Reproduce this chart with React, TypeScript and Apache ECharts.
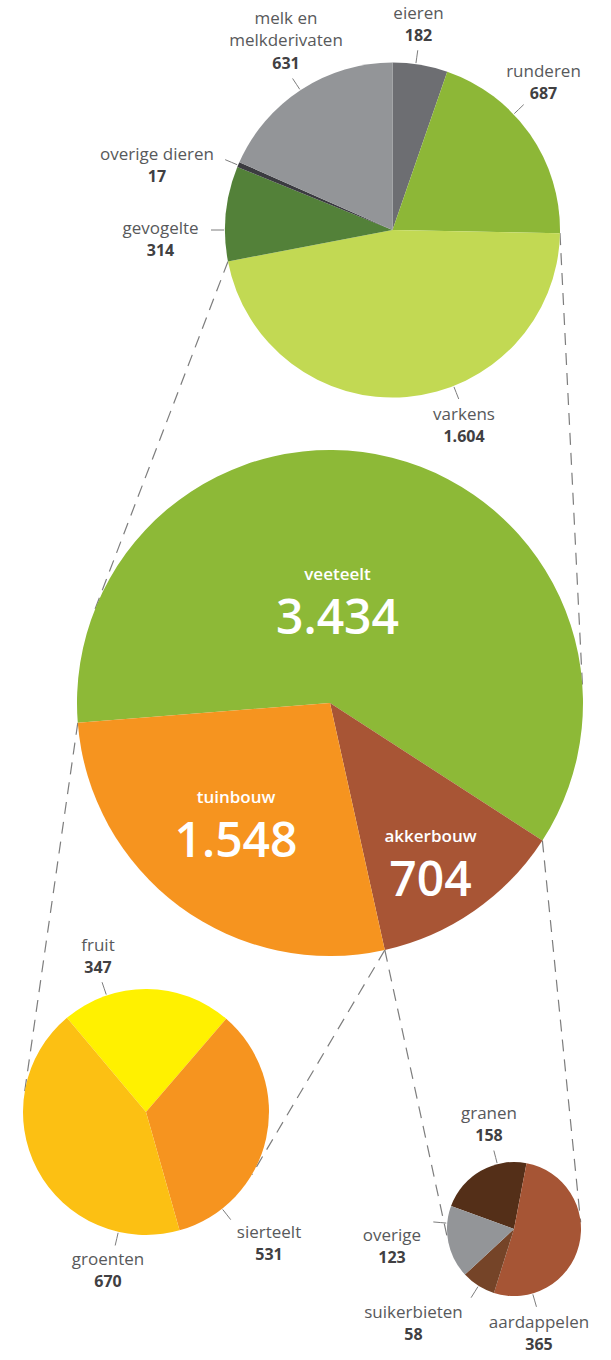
import React, { useEffect, useRef } from 'react';
import * as echarts from 'echarts';

// ---------- data ----------
const animalCategories = ['eieren', 'runderen', 'varkens', 'gevogelte', 'overige dieren', 'melk en\nmelkderivaten'];
const animalValues = [182, 687, 1604, 314, 17, 631];

const sectorCategories = ['veeteelt', 'akkerbouw', 'tuinbouw'];
const sectorValues = [3434, 704, 1548];

const hortiCategories = ['fruit', 'sierteelt', 'groenten'];
const hortiValues = [347, 531, 670];

const arableCategories = ['granen', 'aardappelen', 'suikerbieten', 'overige'];
const arableValues = [158, 365, 58, 123];

// ---------- styles ----------
const animalColors = ['#6d6e72', '#8db737', '#c2d953', '#538139', '#3b3b40', '#939598'];
const sectorColors = ['#8db937', '#a85535', '#f6941f'];
const hortiColors = ['#fff100', '#f6941f', '#fcc013'];
const arableColors = ['#542f18', '#a65535', '#754428', '#939598'];

const FONT = "'Open Sans', 'Noto Sans', sans-serif";
const NAME_COLOR = '#58595b';
const VALUE_COLOR = '#414042';
const LINE_COLOR = '#7d7d7d';

// ---------- layout ----------
type Geo = { cx: number; cy: number; r: number; start: number };
const animalGeo: Geo = { cx: 392.5, cy: 230, r: 167.5, start: 90 };
const sectorGeo: Geo = { cx: 330, cy: 703, r: 253, start: 184.5 };
const hortiGeo: Geo = { cx: 146, cy: 1112, r: 123, start: 130 };
const arableGeo: Geo = { cx: 514, cy: 1229, r: 67, start: 160 };

// label anchor relative to pie centre (dx, dy = top of text block) and leader-line angle (deg)
type LabelPos = { dx: number; dy: number; a: number };
const animalLabels: LabelPos[] = [
  { dx: 26, dy: -229, a: 82 },
  { dx: 151, dy: -171, a: 43.7 },
  { dx: 71.5, dy: 172, a: -68.6 },
  { dx: -232, dy: -14, a: 180 },
  { dx: -235.5, dy: -88, a: 157.2 },
  { dx: -106.5, dy: -224, a: 123.4 },
];
const hortiLabels: LabelPos[] = [
  { dx: -48, dy: -179, a: 108.7 },
  { dx: 123, dy: 108, a: -51.8 },
  { dx: -38, dy: 135, a: -103 },
];
const arableLabels: LabelPos[] = [
  { dx: -25, dy: -128, a: 104.4 },
  { dx: 25, dy: 81, a: -73.9 },
  { dx: -100.5, dy: 71, a: -122 },
  { dx: -122, dy: -6, a: 175 },
];
const sectorLabels = [
  { dx: 7.5, dy: -141 },
  { dx: 100.5, dy: 121 },
  { dx: -94, dy: 82 },
];

const fmt = (v: number) =>
  v >= 1000 ? `${Math.floor(v / 1000)}.${String(v % 1000).padStart(3, '0')}` : String(v);

const RAD = Math.PI / 180;

function boundaryPoint(geo: Geo, values: number[], k: number): [number, number] {
  const total = values.reduce((s, v) => s + v, 0);
  const cum = values.slice(0, k).reduce((s, v) => s + v, 0);
  const a = (geo.start - (cum / total) * 360) * RAD;
  return [geo.cx + geo.r * Math.cos(a), geo.cy - geo.r * Math.sin(a)];
}

function tangentPoint(p: [number, number], geo: Geo, sign: number): [number, number] {
  const dx = p[0] - geo.cx;
  const dy = p[1] - geo.cy;
  const d = Math.hypot(dx, dy);
  const base = Math.atan2(dy, dx);
  const off = Math.acos(geo.r / d);
  const a = base + sign * off;
  return [geo.cx + geo.r * Math.cos(a), geo.cy + geo.r * Math.sin(a)];
}

function outerPie(id: string, geo: Geo, names: string[], values: number[], colors: string[], labels: LabelPos[]) {
  return {
    type: 'pie',
    id,
    center: [geo.cx, geo.cy],
    radius: geo.r,
    startAngle: geo.start,
    clockwise: true,
    avoidLabelOverlap: false,
    silent: true,
    emphasis: { disabled: true },
    itemStyle: { borderWidth: 0 },
    data: names.map((n, i) => ({ name: n, value: values[i], itemStyle: { color: colors[i] } })),
    label: {
      show: true,
      position: 'outside',
      formatter: (p: any) => `{n|${p.name}}\n{v|${fmt(p.value)}}`,
      rich: {
        n: { fontFamily: FONT, fontSize: 17, color: NAME_COLOR, lineHeight: 22.5, align: 'center' },
        v: { fontFamily: FONT, fontSize: 16, fontWeight: 'bold', color: VALUE_COLOR, lineHeight: 23, align: 'center' },
      },
    },
    labelLine: { show: true, length: 6, length2: 4, smooth: false, lineStyle: { color: LINE_COLOR, width: 1 } },
    labelLayout: (p: any) => {
      const L = labels[p.dataIndex];
      const a = L.a * RAD;
      const pt = (rr: number) => [geo.cx + rr * Math.cos(a), geo.cy - rr * Math.sin(a)];
      return {
        x: geo.cx + L.dx,
        y: geo.cy + L.dy,
        align: 'center',
        verticalAlign: 'top',
        labelLinePoints: [pt(geo.r + 1), pt(geo.r + 7), pt(geo.r + 14)],
      };
    },
  };
}

export default function App() {
  const ref = useRef<HTMLDivElement>(null);
  useEffect(() => {
    if (!ref.current) return;
    const chart = echarts.init(ref.current, undefined, { renderer: 'svg' });

    const pTopLeft = boundaryPoint(animalGeo, animalValues, 3);
    const pTopRight = boundaryPoint(animalGeo, animalValues, 2);
    const pMidStart = boundaryPoint(sectorGeo, sectorValues, 0);
    const pMidRight = boundaryPoint(sectorGeo, sectorValues, 1);
    const pMidBottom = boundaryPoint(sectorGeo, sectorValues, 2);

    const connectors: [number, number][][] = [
      [pTopLeft, tangentPoint(pTopLeft, sectorGeo, -1)],
      [pTopRight, tangentPoint(pTopRight, sectorGeo, 1)],
      [pMidStart, tangentPoint(pMidStart, hortiGeo, -1)],
      [pMidBottom, tangentPoint(pMidBottom, hortiGeo, 1)],
      [pMidBottom, tangentPoint(pMidBottom, arableGeo, -1)],
      [pMidRight, tangentPoint(pMidRight, arableGeo, 1)],
    ];

    chart.setOption({
      animation: false,
      backgroundColor: '#ffffff',
      textStyle: { fontFamily: FONT },
      graphic: {
        elements: connectors.map(([a, b]) => ({
          type: 'line',
          z: 0,
          silent: true,
          shape: { x1: a[0], y1: a[1], x2: b[0], y2: b[1] },
          style: { stroke: LINE_COLOR, lineWidth: 1.2, lineDash: [12, 8] },
        })),
      },
      series: [
        outerPie('animal', animalGeo, animalCategories, animalValues, animalColors, animalLabels),
        {
          type: 'pie',
          id: 'sector',
          center: [sectorGeo.cx, sectorGeo.cy],
          radius: sectorGeo.r,
          startAngle: sectorGeo.start,
          clockwise: true,
          avoidLabelOverlap: false,
          silent: true,
          emphasis: { disabled: true },
          itemStyle: { borderWidth: 0 },
          data: sectorCategories.map((n, i) => ({ name: n, value: sectorValues[i], itemStyle: { color: sectorColors[i] } })),
          label: {
            show: true,
            position: 'inside',
            formatter: (p: any) => `{n|${p.name}}\n{v|${fmt(p.value)}}`,
            rich: {
              n: { fontFamily: FONT, fontSize: 17, fontWeight: 600, color: '#ffffff', lineHeight: 22, align: 'center' },
              v: { fontFamily: FONT, fontSize: 48, fontWeight: 600, color: '#ffffff', lineHeight: 62, align: 'center' },
            },
          },
          labelLine: { show: false },
          labelLayout: (p: any) => {
            const L = sectorLabels[p.dataIndex];
            return { x: sectorGeo.cx + L.dx, y: sectorGeo.cy + L.dy, align: 'center', verticalAlign: 'top' };
          },
        },
        outerPie('horti', hortiGeo, hortiCategories, hortiValues, hortiColors, hortiLabels),
        outerPie('arable', arableGeo, arableCategories, arableValues, arableColors, arableLabels),
      ],
    });
    return () => chart.dispose();
  }, []);

  return (
    <div
      ref={ref}
      style={{ position: 'absolute', left: 0, top: 0, width: 611, height: 1360, background: '#ffffff' }}
    />
  );
}
